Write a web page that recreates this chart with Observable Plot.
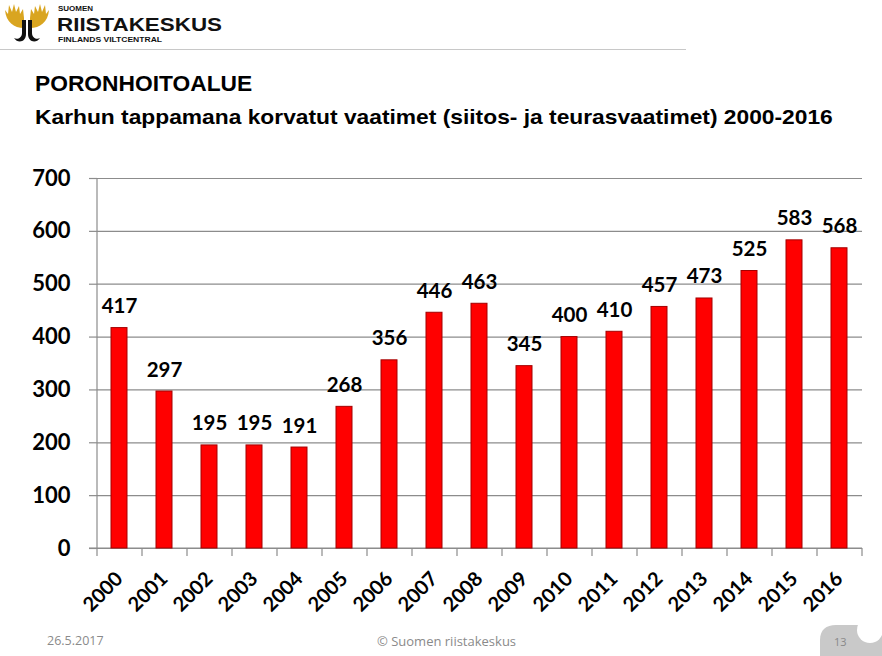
<!DOCTYPE html>
<html>
<head>
<meta charset="utf-8">
<script src="https://cdn.jsdelivr.net/npm/d3@7"></script>
<script src="https://cdn.jsdelivr.net/npm/@observablehq/plot@0.6"></script>
<style>
  html, body { margin: 0; padding: 0; background: #fff; }
  body { width: 882px; height: 656px; position: relative; overflow: hidden; font-family: "Liberation Sans", Arial, sans-serif; }
  #logo { position: absolute; left: 0; top: 0; }
  #rule { position: absolute; left: 0; top: 49px; width: 686px; height: 1px; background: #c8c8c8; }
  #t1 { position: absolute; left: 35px; top: 71px; font-weight: bold; font-size: 22px; color: #000; transform-origin: 0 0; transform: scaleX(1.035); white-space: nowrap; }
  #t2 { position: absolute; left: 35px; top: 105px; font-weight: bold; font-size: 21px; color: #000; white-space: nowrap; transform-origin: 0 0; transform: scaleX(1.085); }
  #chart { position: absolute; left: 0; top: 150px; }
  .foot { position: absolute; font-family: "Open Sans", sans-serif; font-size: 12.5px; color: #8a8a8a; }
  #corner { position: absolute; left: 812px; top: 616px; }
</style>
</head>
<body>
<svg id="logo" width="240" height="48" viewBox="0 0 240 48">
  <path d="M24 28 C14 28 6 22 5 10 L8 14 L9 5 L12 12 L14 4 L16 12 L19 6 L20 14 L23 9 L24 18 Z" fill="#d9a520"/>
  <path d="M30 28 C40 28 48 22 49 10 L46 14 L45 5 L42 12 L40 4 L38 12 L35 6 L34 14 L31 9 L30 18 Z" fill="#d9a520"/>
  <path d="M22 20 L26 20 L26 34 C26 42 18 44 14 38 C17 40 22 38 22 33 Z" fill="#111"/>
  <path d="M32 20 L28 20 L28 34 C28 42 36 44 40 38 C37 40 32 38 32 33 Z" fill="#111"/>
  <text x="58" y="11" font-family="Liberation Sans" font-weight="bold" font-size="8" fill="#111">SUOMEN</text>
  <text x="57" y="31" font-family="Liberation Sans" font-weight="bold" font-size="19" fill="#111" textLength="165" lengthAdjust="spacingAndGlyphs">RIISTAKESKUS</text>
  <text x="58" y="42" font-family="Liberation Sans" font-weight="bold" font-size="7" fill="#111" textLength="104" lengthAdjust="spacingAndGlyphs">FINLANDS VILTCENTRAL</text>
</svg>
<div id="rule"></div>
<div id="t1">PORONHOITOALUE</div>
<div id="t2">Karhun tappamana korvatut vaatimet (siitos- ja teurasvaatimet) 2000-2016</div>
<div id="chart"></div>
<div class="foot" style="left:47px; top:632px;">26.5.2017</div>
<div class="foot" style="left:377px; top:632px; font-size:13px;">© Suomen riistakeskus</div>
<svg id="corner" width="70" height="40" viewBox="0 0 70 40">
  <path d="M8 40 L8 24 C8 14 14 9 24 9 L70 9 L70 40 Z" fill="#c9c9c9"/>
  <circle cx="58" cy="14" r="13" fill="#fff"/>
  <text x="22" y="30" font-family="Open Sans" font-size="11" fill="#888">13</text>
</svg>
<script>
const years = ["2000","2001","2002","2003","2004","2005","2006","2007","2008","2009","2010","2011","2012","2013","2014","2015","2016"];
const values = [417, 297, 195, 195, 191, 268, 356, 446, 463, 345, 400, 410, 457, 473, 525, 583, 568];
const yTicks = [0, 100, 200, 300, 400, 500, 600, 700];

const data = years.map((y, i) => ({year: y, value: values[i]}));
const numFont = "Lato, 'Open Sans', sans-serif";

const chart = Plot.plot({
  width: 882,
  height: 480,
  marginLeft: 97,
  marginRight: 20,
  marginTop: 28,
  marginBottom: 82,
  style: {fontFamily: numFont, background: "transparent", overflow: "visible"},
  x: {domain: years, paddingInner: 0.64, paddingOuter: 0.32, label: null},
  y: {domain: [0, 700], label: null},
  marks: [
    Plot.gridY(yTicks, {stroke: "#8c8c8c", strokeOpacity: 1, strokeWidth: 1.2}),
    Plot.axisY(yTicks, {tickSize: 8, tickPadding: 19, stroke: "#8c8c8c", strokeOpacity: 1, strokeWidth: 1.2, fontSize: 22, fontWeight: "bold", fill: "#000"}),
    Plot.axisX({tickSize: 0, tickPadding: 27, tickRotate: -45, fontSize: 20, fontWeight: "bold", fill: "#000"}),
    Plot.barY(data, {x: "year", y: "value", fill: "#ff0000", stroke: "#a40000", strokeWidth: 1}),
    Plot.text(data, {x: "year", y: "value", text: d => String(d.value), dy: -15, lineAnchor: "bottom", fontSize: 20.5, fontWeight: "bold", fill: "#000"})
  ]
});
document.getElementById("chart").appendChild(chart);

// axis lines and category-boundary ticks, positioned via the plot's own scales
const xs = chart.scale("x"), ys = chart.scale("y");
const svg = d3.select(chart);
const y0 = ys.apply(0), yTop = ys.apply(700);
const [r0, r1] = xs.range;
const g = svg.append("g").attr("stroke", "#8c8c8c").attr("stroke-width", 1.2);
g.append("line").attr("x1", r0).attr("x2", r0).attr("y1", yTop).attr("y2", y0);
g.append("line").attr("x1", r0 - 8).attr("x2", r1).attr("y1", y0).attr("y2", y0);
for (let i = 0; i <= years.length; i++) {
  const xx = r0 + i * (r1 - r0) / years.length;
  g.append("line").attr("x1", xx).attr("x2", xx).attr("y1", y0).attr("y2", y0 + 8);
}
svg.selectAll("g[aria-label='bar'], g[aria-label='text']").raise();
</script>
</body>
</html>
